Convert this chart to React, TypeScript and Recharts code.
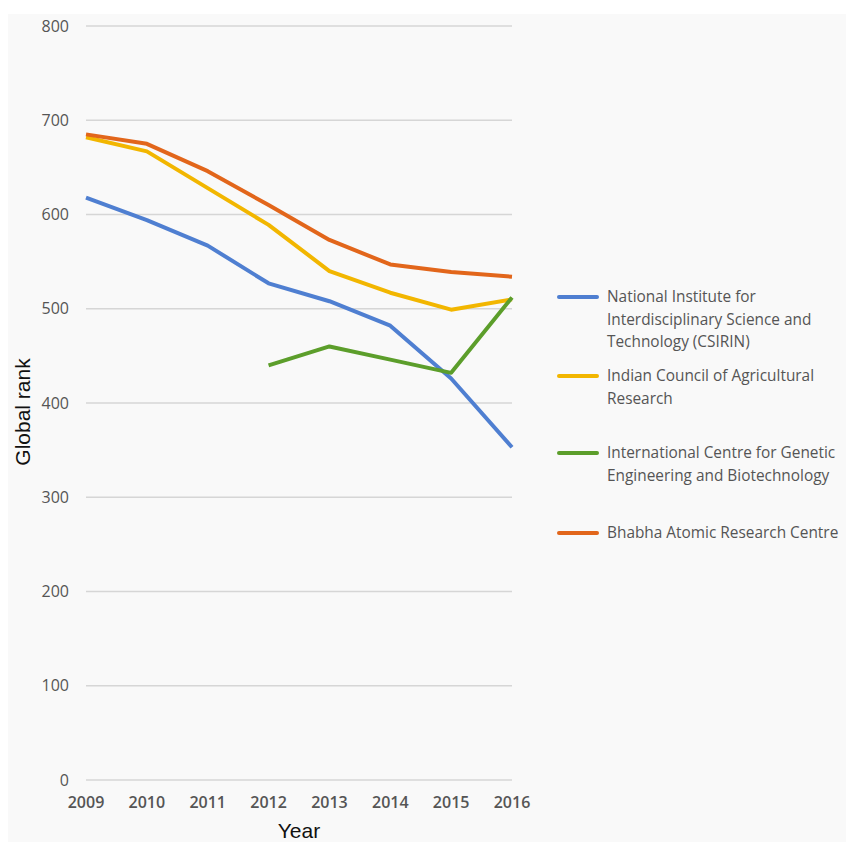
import { LineChart, Line, XAxis, YAxis, CartesianGrid, Label } from 'recharts';

const years = ['2009', '2010', '2011', '2012', '2013', '2014', '2015', '2016'];
const csirin = [618, 594, 567, 527, 508, 482, 426, 353];
const icar = [682, 667, 628, 589, 540, 517, 499, 510];
const icgeb = [null, null, null, 440, 460, 446, 432, 512];
const barc = [685, 675, 646, 610, 573, 547, 539, 534];
const rankTicks = [0, 100, 200, 300, 400, 500, 600, 700, 800];

const seriesNames = [
  'National Institute for Interdisciplinary Science and Technology (CSIRIN)',
  'Indian Council of Agricultural Research',
  'International Centre for Genetic Engineering and Biotechnology',
  'Bhabha Atomic Research Centre',
];
// legend text is broken by hand, the way it wraps in the original figure
const legendLines = [
  ['National Institute for', 'Interdisciplinary Science and', 'Technology (CSIRIN)'],
  ['Indian Council of Agricultural', 'Research'],
  ['International Centre for Genetic', 'Engineering and Biotechnology'],
  ['Bhabha Atomic Research Centre'],
];
const seriesKeys = ['csirin', 'icar', 'icgeb', 'barc'];
const colors = ['#4f7fd1', '#f2b600', '#5c9e2b', '#e2661b'];

const data = years.map((year, i) => ({
  year,
  csirin: csirin[i],
  icar: icar[i],
  icgeb: icgeb[i],
  barc: barc[i],
}));

// first-line centre of each legend entry
const legendTops = [297, 376, 453, 533];

const xTickStyle = { fill: '#555', fontSize: 16, fontWeight: 600, fontFamily: 'Open Sans' };
const yTickStyle = { fill: '#555', fontSize: 16, fontWeight: 500, fontFamily: 'Open Sans' };

export default function App() {
  return (
    <div style={{ position: 'absolute', left: 0, top: 0, width: 846, height: 842, background: '#fff' }}>
      <div style={{ position: 'absolute', left: 8, top: 14, width: 838, height: 828, background: '#f9f9f9' }} />
      <div style={{ position: 'absolute', left: 0, top: 0 }}>
        <LineChart width={846} height={842} data={data} margin={{ top: 26, right: 334, bottom: 32, left: 26 }}>
          <CartesianGrid vertical={false} stroke="#d6d6d6" strokeWidth={1.5} />
          <XAxis
            dataKey="year"
            axisLine={false}
            tickLine={false}
            tickSize={0}
            tickMargin={17}
            height={30}
            tick={xTickStyle}
            interval={0}
          >
            <Label
              content={({ viewBox }: any) => (
                <text
                  x={viewBox.x + viewBox.width / 2}
                  y={viewBox.y + 50}
                  textAnchor="middle"
                  dominantBaseline="central"
                  fontSize={21}
                  fontFamily="Liberation Sans"
                  fill="#111"
                >
                  Year
                </text>
              )}
            />
          </XAxis>
          <YAxis
            domain={[0, 800]}
            ticks={rankTicks}
            axisLine={false}
            tickLine={false}
            tickSize={0}
            tickMargin={17}
            width={60}
            tick={yTickStyle}
          >
            <Label
              content={({ viewBox }: any) => (
                <text
                  x={viewBox.x - 4}
                  y={viewBox.y + viewBox.height / 2 + 9}
                  transform={`rotate(-90 ${viewBox.x - 4} ${viewBox.y + viewBox.height / 2 + 9})`}
                  textAnchor="middle"
                  dominantBaseline="central"
                  fontSize={21}
                  fontFamily="Liberation Sans"
                  fill="#111"
                >
                  Global rank
                </text>
              )}
            />
          </YAxis>
          {seriesKeys.map((key, i) => (
            <Line
              key={key}
              dataKey={key}
              name={seriesNames[i]}
              stroke={colors[i]}
              strokeWidth={4}
              strokeLinejoin="round"
              dot={false}
              activeDot={false}
              isAnimationActive={false}
            />
          ))}
        </LineChart>
      </div>
      {legendLines.map((lines, i) => (
        <div key={i} style={{ position: 'absolute', left: 557, top: legendTops[i] - 11, display: 'flex' }}>
          <div style={{ width: 42, height: 4, borderRadius: 2, background: colors[i], marginTop: 9, marginRight: 8 }} />
          <div style={{ fontFamily: 'Open Sans', fontSize: 15.4, lineHeight: '22.5px', color: '#555' }}>
            {lines.map((t) => (
              <div key={t}>{t}</div>
            ))}
          </div>
        </div>
      ))}
    </div>
  );
}
